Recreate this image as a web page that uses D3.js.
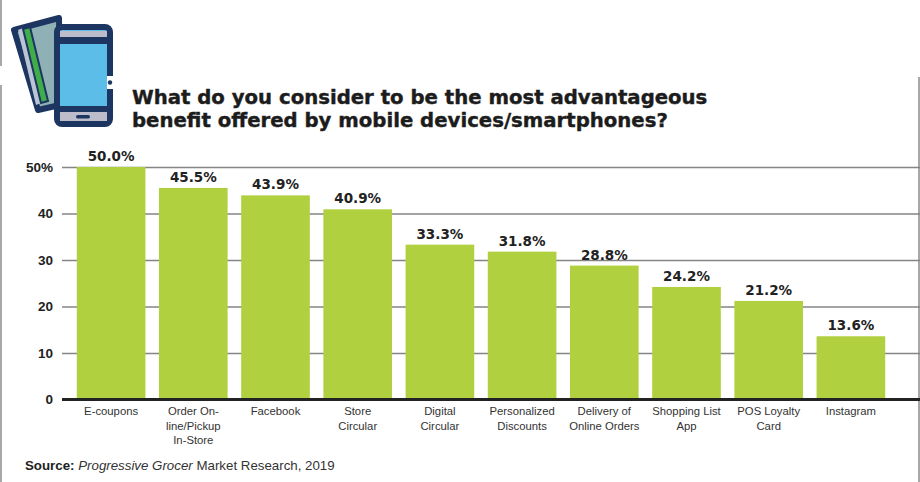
<!DOCTYPE html>
<html lang="en">

<head>
	<meta charset="utf-8">
	<title>Mobile benefits</title>
	<script src="https://d3js.org/d3.v7.min.js" charset="utf-8"></script>
	<style type="text/css">
		html,
		body {
			margin: 0;
			padding: 0;
			background: #fff;
			overflow: hidden;
		}

		svg {
			display: block;
		}

		.axis text {
			font-family: "Liberation Sans", Arial, sans-serif;
		}
	</style>
</head>

<body>
	<script type="text/javascript">
		var categories = ["E-coupons", "Order On-|line/Pickup|In-Store", "Facebook", "Store|Circular", "Digital|Circular",
			"Personalized|Discounts", "Delivery of|Online Orders", "Shopping List|App", "POS Loyalty|Card", "Instagram"];
		var values = [50.0, 45.5, 43.9, 40.9, 33.3, 31.8, 28.8, 24.2, 21.2, 13.6];
		var yTicks = [0, 10, 20, 30, 40, 50];
		var titleLines = ["What do you consider to be the most advantageous", "benefit offered by mobile devices/smartphones?"];

		var w = 920;
		var h = 482;
		var navy = "#1d3561";
		var green = "#b0d040";

		var svg = d3.select("body")
			.append("svg")
			.attr("width", w)
			.attr("height", h);

		// page frame bits left over from the magazine scan
		var frame = [[1, 0, 1, 66], [1, 85, 1, 482], [919, 77, 919, 482]];
		svg.selectAll("line.frame")
			.data(frame)
			.enter()
			.append("line")
			.attr("class", "frame")
			.attr("x1", (d) => d[0])
			.attr("y1", (d) => d[1])
			.attr("x2", (d) => d[2])
			.attr("y2", (d) => d[3])
			.attr("stroke", "#a8a8a8")
			.attr("stroke-width", 2);

		var scaleX = d3.scaleBand()
			.domain(categories)
			.range([70, 892])
			.paddingInner(0.165)
			.paddingOuter(0.0825);

		var scaleY = d3.scaleLinear()
			.domain([0, 50])
			.range([399.5, 167]);

		// gridlines come from the axis ticks
		var axisY = d3.axisLeft(scaleY)
			.tickValues(yTicks)
			.tickSize(-(w - 62))
			.tickPadding(9)
			.tickFormat((d) => d == 50 ? "50%" : d);

		var gy = svg.append("g")
			.attr("class", "axis")
			.attr("transform", "translate(62,0)")
			.call(axisY);
		gy.select(".domain").remove();
		gy.selectAll("line")
			.attr("stroke", "#858585")
			.attr("stroke-width", 1.5);
		gy.selectAll("text")
			.attr("fill", "#222")
			.style("font-size", "13.5px")
			.style("font-weight", "bold");

		svg.append("g")
			.selectAll("rect")
			.data(values)
			.enter()
			.append("rect")
			.attr("x", (d, i) => scaleX(categories[i]))
			.attr("y", (d) => scaleY(d))
			.attr("width", scaleX.bandwidth())
			.attr("height", (d) => scaleY(0) - scaleY(d))
			.attr("fill", green);

		svg.append("g")
			.selectAll("text")
			.data(values)
			.enter()
			.append("text")
			.text((d) => d.toFixed(1) + "%")
			.attr("x", (d, i) => scaleX(categories[i]) + scaleX.bandwidth() / 2)
			.attr("y", (d) => scaleY(d) - 6)
			.attr("text-anchor", "middle")
			.attr("fill", "#222")
			.style("font-family", "'DejaVu Sans', sans-serif")
			.style("font-size", "13.5px")
			.style("font-weight", "bold");

		var axisX = d3.axisBottom(scaleX)
			.tickSize(0)
			.tickFormat("");

		var gx = svg.append("g")
			.attr("class", "axis")
			.attr("transform", "translate(0," + scaleY(0) + ")")
			.call(axisX);
		gx.select(".domain").remove();
		gx.selectAll(".tick text")
			.attr("dy", null)
			.each(function (d) {
				var t = d3.select(this);
				d.split("|").forEach(function (line, i) {
					t.append("tspan")
						.attr("x", 0)
						.attr("y", 15.5 + i * 14.5)
						.text(line);
				});
			})
			.attr("fill", "#333")
			.style("font-size", "11.3px");

		svg.append("line")
			.attr("x1", 62)
			.attr("x2", w)
			.attr("y1", scaleY(0))
			.attr("y2", scaleY(0))
			.attr("stroke", "#222")
			.attr("stroke-width", 3);

		svg.append("g")
			.selectAll("text")
			.data(titleLines)
			.enter()
			.append("text")
			.text((d) => d)
			.attr("x", 132)
			.attr("y", (d, i) => 104 + i * 22.5)
			.attr("fill", "#1c1c1c")
			.attr("stroke", "#1c1c1c")
			.attr("stroke-width", 0.4)
			.style("font-family", "'DejaVu Sans', sans-serif")
			.style("font-size", "19.7px")
			.style("font-weight", "bold");

		var source = svg.append("text")
			.attr("x", 25)
			.attr("y", 470)
			.attr("fill", "#333")
			.style("font-family", "'Liberation Sans', Arial, sans-serif")
			.style("font-size", "13.3px");
		source.append("tspan").text("Source: ").style("font-weight", "bold").attr("fill", "#222");
		source.append("tspan").text("Progressive Grocer").style("font-style", "italic");
		source.append("tspan").text(" Market Research, 2019");

		// phone and card icon
		var icon = svg.append("g");
		icon.append("polygon")
			.attr("points", "14,30 59,18 60,105 38,110")
			.attr("fill", "#8fb0b5")
			.attr("stroke", navy)
			.attr("stroke-width", 6)
			.attr("stroke-linejoin", "round");
		icon.append("polygon")
			.attr("points", "18,30 23,28 41,103 36,105")
			.attr("fill", "#b9c4d4");
		icon.append("polygon")
			.attr("points", "23,29 30,27 48,101 41,103")
			.attr("fill", "#3fae49")
			.attr("stroke", navy)
			.attr("stroke-width", 2);
		icon.append("rect")
			.attr("x", 57)
			.attr("y", 27)
			.attr("width", 53)
			.attr("height", 97)
			.attr("rx", 5)
			.attr("fill", "#5cbde8")
			.attr("stroke", navy)
			.attr("stroke-width", 6);
		icon.append("rect")
			.attr("x", 60)
			.attr("y", 31)
			.attr("width", 47)
			.attr("height", 6)
			.attr("fill", "#bcbccb");
		icon.append("rect")
			.attr("x", 60)
			.attr("y", 112)
			.attr("width", 47)
			.attr("height", 9)
			.attr("fill", "#bcbccb");
		icon.append("rect")
			.attr("x", 57)
			.attr("y", 37)
			.attr("width", 53)
			.attr("height", 7)
			.attr("fill", navy);
		icon.append("rect")
			.attr("x", 57)
			.attr("y", 106)
			.attr("width", 53)
			.attr("height", 6)
			.attr("fill", navy);
		icon.append("rect")
			.attr("x", 76)
			.attr("y", 115)
			.attr("width", 14)
			.attr("height", 3.5)
			.attr("rx", 1.7)
			.attr("fill", navy);
		icon.append("rect")
			.attr("x", 106)
			.attr("y", 76)
			.attr("width", 8)
			.attr("height", 13)
			.attr("fill", "#5cbde8");
		icon.append("rect")
			.attr("x", 107)
			.attr("y", 76)
			.attr("width", 7)
			.attr("height", 13)
			.attr("fill", "#fff");
		icon.append("circle")
			.attr("cx", 110)
			.attr("cy", 82.5)
			.attr("r", 2.2)
			.attr("fill", navy);
	</script>
</body>

</html>
